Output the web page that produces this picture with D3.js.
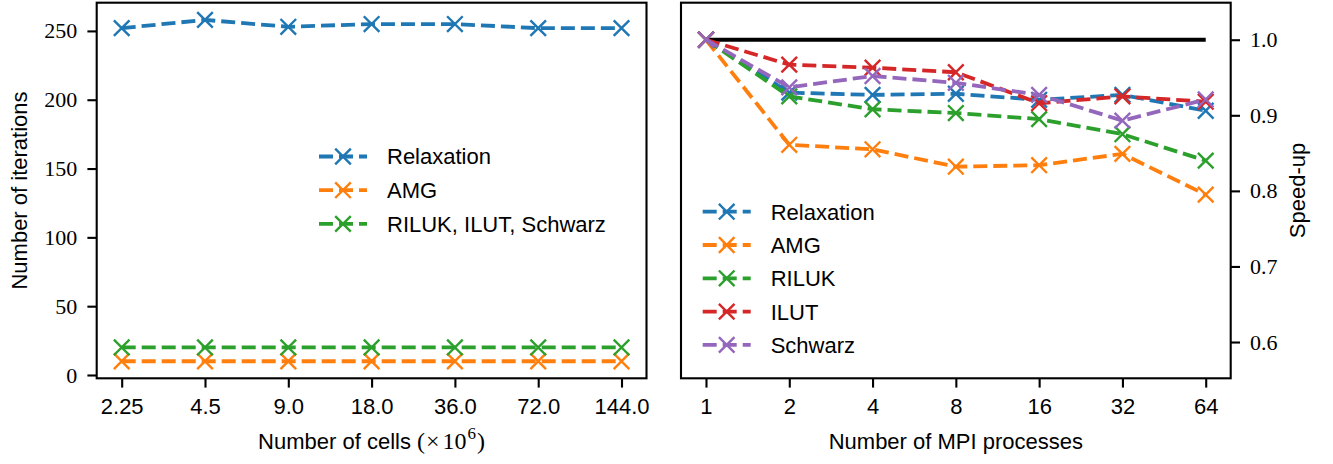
<!DOCTYPE html>
<html>
<head>
<meta charset="utf-8">
<script src="https://cdnjs.cloudflare.com/ajax/libs/d3/7.8.5/d3.min.js"></script>
<style>
  html, body { margin: 0; padding: 0; background: #fff; }
  svg { display: block; }
</style>
</head>
<body>
<svg id="chart" width="1333" height="464"></svg>
<script>
// ---------------- data ----------------
const cellLabels = ["2.25", "4.5", "9.0", "18.0", "36.0", "72.0", "144.0"];
const iterRelaxation = [252, 258, 253, 255, 255, 252, 252];
const iterAMG = [10, 10, 10, 10, 10, 10, 10];
const iterOthers = [20, 20, 20, 20, 20, 20, 20];
const iterTicks = [0, 50, 100, 150, 200, 250];

const procLabels = ["1", "2", "4", "8", "16", "32", "64"];
const speedRelaxation = [1.0, 0.930, 0.927, 0.9285, 0.9205, 0.927, 0.906];
const speedAMG = [1.0, 0.861, 0.855, 0.832, 0.834, 0.849, 0.795];
const speedRILUK = [1.0, 0.925, 0.908, 0.903, 0.895, 0.875, 0.840];
const speedILUT = [1.0, 0.967, 0.963, 0.957, 0.916, 0.925, 0.918];
const speedSchwarz = [1.0, 0.937, 0.952, 0.943, 0.927, 0.893, 0.921];
const speedTicks = [0.6, 0.7, 0.8, 0.9, 1.0];
const idealSpeed = [1.0, 1.0];

const leftSeries = [
  {name: "Relaxation", values: iterRelaxation, color: "#1f77b4"},
  {name: "AMG", values: iterAMG, color: "#ff7f0e"},
  {name: "RILUK, ILUT, Schwarz", values: iterOthers, color: "#2ca02c"}
];
const rightSeries = [
  {name: "Relaxation", values: speedRelaxation, color: "#1f77b4"},
  {name: "AMG", values: speedAMG, color: "#ff7f0e"},
  {name: "RILUK", values: speedRILUK, color: "#2ca02c"},
  {name: "ILUT", values: speedILUT, color: "#d62728"},
  {name: "Schwarz", values: speedSchwarz, color: "#9467bd"}
];

// ---------------- style ----------------
const SANS = "'Liberation Sans', Arial, sans-serif";
const SERIF = "'Liberation Serif', 'Times New Roman', serif";
const FS = 22;
const LW = 3.8;
const DASH = "14,6";
const MK = 7.8;      // marker half-size
const MKW = 2.4;     // marker stroke
const AXW = 2.1;     // frame/tick width
const TICK = 9.3;

const svg = d3.select("#chart");

const yTop = 2.7, yBot = 378.3;
const L = {x0: 96.7, x1: 646.5};
const R = {x0: 681, x1: 1230.7};

const xL = d3.scaleLinear().domain([-0.3, 6.3]).range([L.x0, L.x1]);
const yL = d3.scaleLinear().domain([-2.4, 270.5]).range([yBot, yTop]);
const xR = d3.scaleLinear().domain([-0.3, 6.3]).range([R.x0, R.x1]);
const yR = d3.scaleLinear().domain([0.552, 1.049]).range([yBot, yTop]);

function drawMarker(g, x, y, color) {
  g.append("path")
    .attr("d", `M${x - MK},${y - MK}L${x + MK},${y + MK}M${x - MK},${y + MK}L${x + MK},${y - MK}`)
    .attr("stroke", color).attr("stroke-width", MKW).attr("fill", "none");
}

function drawSeries(g, series, xs, ys) {
  const line = d3.line().x((d, i) => xs(i)).y(d => ys(d));
  series.forEach(s => {
    const sg = g.append("g");
    sg.append("path").datum(s.values)
      .attr("d", line)
      .attr("fill", "none")
      .attr("stroke", s.color)
      .attr("stroke-width", LW)
      .attr("stroke-dasharray", DASH);
    s.values.forEach((v, i) => drawMarker(sg, xs(i), ys(v), s.color));
  });
}

function drawLegend(g, series, hx0, hx1, tx, yc0, step) {
  series.forEach((s, i) => {
    const yc = yc0 + i * step;
    g.append("line")
      .attr("x1", hx0).attr("x2", hx1).attr("y1", yc).attr("y2", yc)
      .attr("stroke", s.color).attr("stroke-width", LW)
      .attr("stroke-dasharray", DASH);
    drawMarker(g, (hx0 + hx1) / 2, yc, s.color);
    g.append("text")
      .attr("x", tx).attr("y", yc).attr("dy", "0.36em")
      .attr("font-family", SANS).attr("font-size", FS)
      .attr("fill", "#000")
      .text(s.name);
  });
}

function styleAxis(g, family) {
  g.select(".domain").remove();
  g.selectAll(".tick line").attr("stroke", "#000").attr("stroke-width", AXW);
  g.selectAll(".tick text").attr("font-family", family).attr("font-size", FS).attr("fill", "#000");
}

// ---------------- left panel ----------------
const gL = svg.append("g");
const axLx = gL.append("g").attr("transform", `translate(0,${yBot})`)
  .call(d3.axisBottom(xL).tickValues(d3.range(cellLabels.length))
    .tickFormat(i => cellLabels[i]).tickSize(TICK).tickPadding(10.8));
styleAxis(axLx, SANS);
const axLy = gL.append("g").attr("transform", `translate(${L.x0},0)`)
  .call(d3.axisLeft(yL).tickValues(iterTicks).tickFormat(d3.format("d")).tickSize(TICK).tickPadding(10.1));
styleAxis(axLy, SERIF);

drawSeries(gL.append("g"), leftSeries, xL, yL);
gL.append("rect").attr("x", L.x0).attr("y", yTop).attr("width", L.x1 - L.x0).attr("height", yBot - yTop)
  .attr("fill", "none").attr("stroke", "#000").attr("stroke-width", AXW);
drawLegend(gL.append("g"), leftSeries, 319, 367, 387, 156.5, 33.7);

// axis labels left
const xlabL = gL.append("text")
  .attr("x", (L.x0 + L.x1) / 2).attr("y", 449)
  .attr("text-anchor", "middle").attr("font-size", FS).attr("fill", "#000");
xlabL.append("tspan").attr("font-family", SANS).text("Number of cells ");
xlabL.append("tspan").attr("font-family", SERIF).attr("font-size", 24).text("(");
xlabL.append("tspan").attr("font-family", SERIF).attr("font-size", 24).attr("dx", 1).text("\u00d7");
xlabL.append("tspan").attr("font-family", SERIF).attr("font-size", 24).attr("dx", 3).text("10");
xlabL.append("tspan").attr("font-family", SERIF).attr("font-size", 17).attr("dy", -10).attr("dx", 1).text("6");
xlabL.append("tspan").attr("font-family", SERIF).attr("font-size", 24).attr("dy", 10).attr("dx", 1).text(")");

gL.append("text")
  .attr("transform", `translate(26.5,${(yTop + yBot) / 2}) rotate(-90)`)
  .attr("text-anchor", "middle").attr("font-family", SANS).attr("font-size", FS).attr("fill", "#000")
  .text("Number of iterations");

// ---------------- right panel ----------------
const gR = svg.append("g");
const axRx = gR.append("g").attr("transform", `translate(0,${yBot})`)
  .call(d3.axisBottom(xR).tickValues(d3.range(procLabels.length))
    .tickFormat(i => procLabels[i]).tickSize(TICK).tickPadding(10.8));
styleAxis(axRx, SANS);
const axRy = gR.append("g").attr("transform", `translate(${R.x1},0)`)
  .call(d3.axisRight(yR).tickValues(speedTicks).tickFormat(d3.format(".1f")).tickSize(TICK).tickPadding(10));
styleAxis(axRy, SERIF);

gR.append("path").datum(idealSpeed)
  .attr("d", d3.line().x((d, i) => xR(i * (procLabels.length - 1))).y(d => yR(d)))
  .attr("stroke", "#000").attr("stroke-width", LW).attr("fill", "none");

drawSeries(gR.append("g"), rightSeries, xR, yR);
gR.append("rect").attr("x", R.x0).attr("y", yTop).attr("width", R.x1 - R.x0).attr("height", yBot - yTop)
  .attr("fill", "none").attr("stroke", "#000").attr("stroke-width", AXW);
drawLegend(gR.append("g"), rightSeries, 702.7, 750.7, 770.7, 211.7, 33.3);

gR.append("text")
  .attr("x", (R.x0 + R.x1) / 2).attr("y", 449)
  .attr("text-anchor", "middle").attr("font-family", SANS).attr("font-size", FS).attr("fill", "#000")
  .text("Number of MPI processes");

gR.append("text")
  .attr("transform", `translate(1305,${(yTop + yBot) / 2}) rotate(-90)`)
  .attr("text-anchor", "middle").attr("font-family", SANS).attr("font-size", FS).attr("fill", "#000")
  .text("Speed-up");
</script>
</body>
</html>
